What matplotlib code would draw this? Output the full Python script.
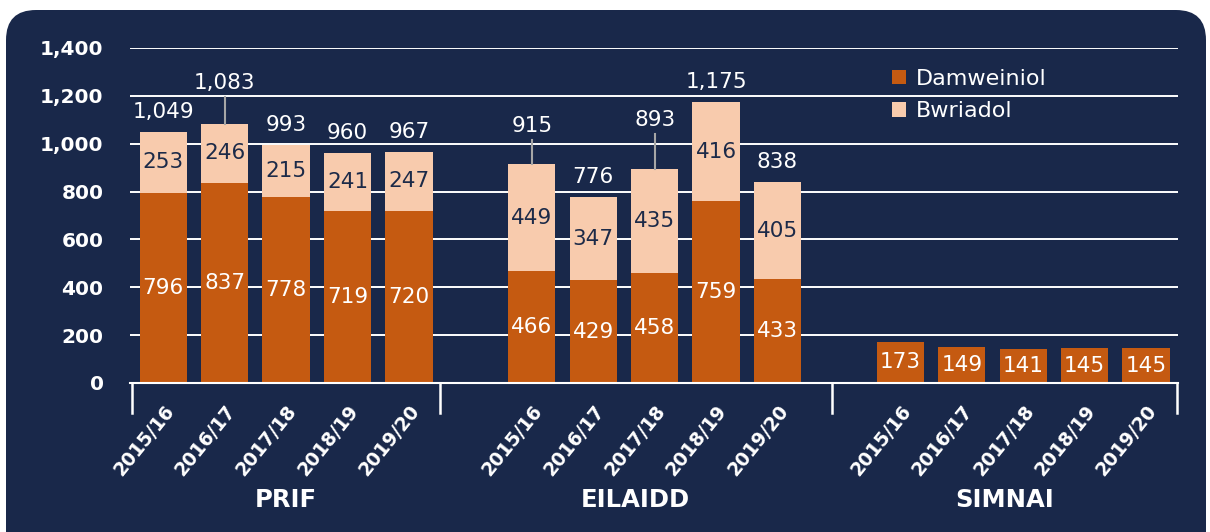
import matplotlib.pyplot as plt
import matplotlib.transforms as mtransforms
from matplotlib.patches import FancyBboxPatch
import numpy as np

years = ["2015/16", "2016/17", "2017/18", "2018/19", "2019/20"]
groups = ["PRIF", "EILAIDD", "SIMNAI"]

damweiniol = [796, 837, 778, 719, 720,
              466, 429, 458, 759, 433,
              173, 149, 141, 145, 145]
bwriadol = [253, 246, 215, 241, 247,
            449, 347, 435, 416, 405,
            0, 0, 0, 0, 0]

BG = "#19284a"
ORANGE = "#c55a11"
PEACH = "#f8cbad"
NAVY_TXT = "#1c2a48"

fig = plt.figure(figsize=(12.1, 5.32), dpi=100)
fig.patch.set_facecolor("white")

# rounded dark panel
panel = FancyBboxPatch((0.06, -0.5), 12.0, 5.72,
                       boxstyle="round,pad=0,rounding_size=0.3",
                       transform=fig.dpi_scale_trans, facecolor=BG,
                       edgecolor="none", zorder=-10)
fig.patches.append(panel)

ax = fig.add_axes([130 / 1210, 1 - 383 / 532, 1048 / 1210, 335 / 532])
ax.set_facecolor("none")
ax.set_zorder(1)

x = []
for g in range(len(groups)):
    for i in range(len(years)):
        x.append(g * 6 + i)
x = np.array(x)
dam = np.array(damweiniol)
bwr = np.array(bwriadol)
tot = dam + bwr

w = 0.77
ax.bar(x, dam, w, color=ORANGE, label="Damweiniol", zorder=3)
ax.bar(x[bwr > 0], bwr[bwr > 0], w, bottom=dam[bwr > 0], color=PEACH,
       label="Bwriadol", zorder=3)

lbl_font = dict(fontsize=15.5, family="DejaVu Sans")
for xi, d, b in zip(x, dam, bwr):
    ax.text(xi, d / 2, f"{d}", ha="center", va="center", color="white",
            zorder=5, **lbl_font)
    if b > 0:
        ax.text(xi, d + b / 2, f"{b}", ha="center", va="center",
                color=NAVY_TXT, zorder=5, **lbl_font)

# totals, a few lifted with leader lines
leader = {1: 171, 5: 159, 7: 206}
for k, (xi, t, b) in enumerate(zip(x, tot, bwr)):
    if b == 0:
        continue
    off = leader.get(k, 84)
    ax.text(xi, t + off, f"{t:,}", ha="center", va="center", color="white",
            zorder=5, **lbl_font)
    if k in leader:
        ax.plot([xi, xi], [t, t + off - 58], color="#a6a6a6", lw=1.5,
                zorder=4)

ax.set_xlim(-0.54, 16.52)
ax.set_ylim(0, 1400)
ax.set_yticks(range(0, 1401, 200))
ax.set_yticklabels([f"{v:,}" for v in range(0, 1401, 200)])
ax.tick_params(axis="y", length=0, pad=19, labelcolor="white",
               labelsize=14.5)
for t in ax.get_yticklabels():
    t.set_fontweight("bold")

ax.set_xticks(x)
ax.set_xticklabels(years * 3, rotation=51, ha="right",
                   rotation_mode="anchor", fontweight="bold",
                   fontsize=13.5, color="white")
ax.tick_params(axis="x", length=0, pad=13)

ax.grid(axis="y", color="white", lw=1.4, zorder=1)
ax.set_axisbelow(True)
for s in ["top", "right", "left"]:
    ax.spines[s].set_visible(False)
ax.spines["bottom"].set_color("white")
ax.spines["bottom"].set_linewidth(1.5)
ax.spines["bottom"].set_zorder(4)

# group separators and group names
trans = mtransforms.blended_transform_factory(ax.transData, ax.transAxes)
seps = [-0.5, 4.5, 10.88, 16.5]
for s in seps:
    ax.plot([s, s], [0, -0.09], color="white", lw=1.8, transform=trans,
            clip_on=False)
for g, name in enumerate(groups):
    cx = (seps[g] + seps[g + 1]) / 2
    ax.text(cx, -0.35, name, transform=trans, ha="center", va="center",
            color="white", fontsize=17.5, fontweight="bold")

ax.legend(loc="upper left", bbox_to_anchor=(874 / 1210, 1 - 51 / 532),
          bbox_transform=fig.transFigure, frameon=False, fontsize=16,
          handlelength=0.65, handleheight=0.65, handletextpad=0.45,
          labelspacing=0.55, labelcolor="white", borderpad=0.3)

fig.savefig("out.png", dpi=100, facecolor=fig.get_facecolor())
